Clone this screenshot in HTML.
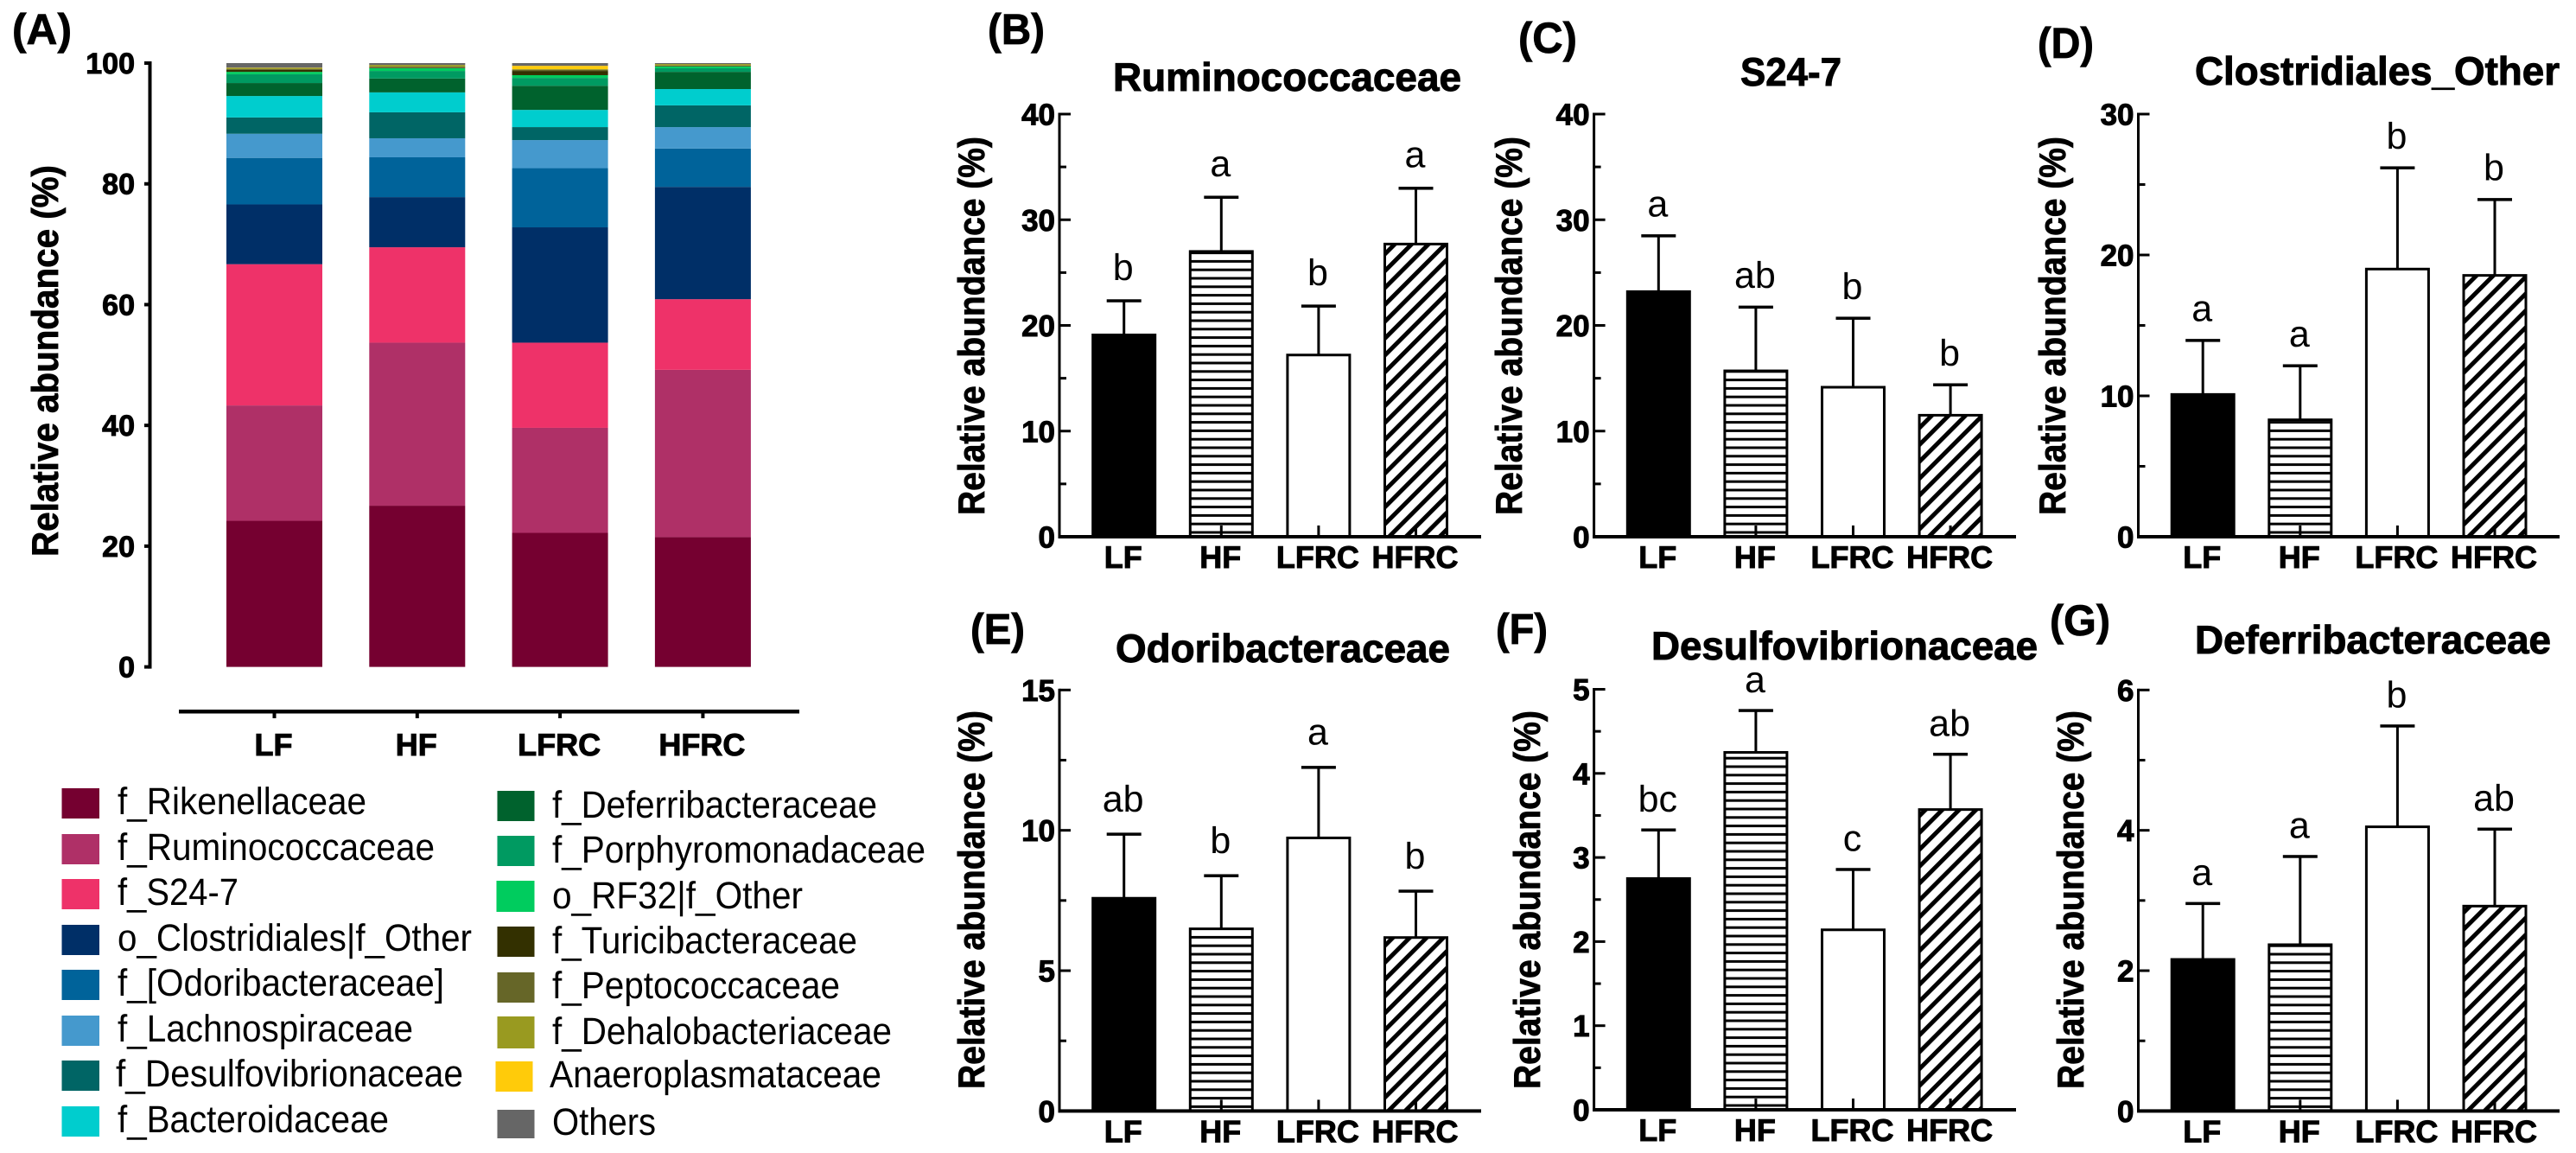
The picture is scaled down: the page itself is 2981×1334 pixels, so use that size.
<!DOCTYPE html>
<html lang="en">
<head>
<meta charset="utf-8">
<title>Relative abundance of gut microbiota families</title>
<style>
html,body{margin:0;padding:0;background:#fff;}
svg{display:block;font-family:"Liberation Sans",sans-serif;text-rendering:geometricPrecision;}
.b{font-weight:700;fill:#000;stroke:#000;stroke-width:1;}
.lg{font-size:44px;fill:#000;}
.pl{font-size:50px;font-weight:700;fill:#000;stroke:#000;stroke-width:.8;}
.tt{font-size:46px;font-weight:700;fill:#000;stroke:#000;stroke-width:1;}
.yt{font-size:43px;font-weight:700;fill:#000;stroke:#000;stroke-width:.8;}
</style>
</head>
<body>
<svg id="fig" xmlns="http://www.w3.org/2000/svg" width="2981" height="1334" viewBox="0 0 2981 1334">
<defs>
<pattern id="diag" patternUnits="userSpaceOnUse" width="13.8" height="13.8" patternTransform="rotate(-45)">
<rect width="13.8" height="13.8" fill="#fff"/>
<rect width="13.8" height="5" fill="#000"/>
</pattern>
</defs>
<rect width="2981" height="1334" fill="#fff"/>

<text class="pl" x="14" y="51" textLength="69" lengthAdjust="spacingAndGlyphs">(A)</text>
<text class="pl" x="1143" y="51" textLength="66" lengthAdjust="spacingAndGlyphs">(B)</text>
<text class="pl" x="1757" y="61" textLength="68" lengthAdjust="spacingAndGlyphs">(C)</text>
<text class="pl" x="2358" y="67" textLength="65" lengthAdjust="spacingAndGlyphs">(D)</text>
<text class="pl" x="1123" y="745" textLength="63" lengthAdjust="spacingAndGlyphs">(E)</text>
<text class="pl" x="1731" y="745" textLength="60" lengthAdjust="spacingAndGlyphs">(F)</text>
<text class="pl" x="2372" y="735" textLength="70" lengthAdjust="spacingAndGlyphs">(G)</text>

<text class="tt" x="1288" y="105" textLength="403" lengthAdjust="spacingAndGlyphs">Ruminococcaceae</text>
<text class="tt" x="2014" y="99" textLength="117" lengthAdjust="spacingAndGlyphs">S24-7</text>
<text class="tt" x="2540" y="98" textLength="422" lengthAdjust="spacingAndGlyphs">Clostridiales_Other</text>
<text class="tt" x="1291" y="766" textLength="387" lengthAdjust="spacingAndGlyphs">Odoribacteraceae</text>
<text class="tt" x="1911" y="763" textLength="447" lengthAdjust="spacingAndGlyphs">Desulfovibrionaceae</text>
<text class="tt" x="2540" y="756" textLength="412" lengthAdjust="spacingAndGlyphs">Deferribacteraceae</text>

<text class="yt" transform="translate(67,644) rotate(-90)" textLength="453" lengthAdjust="spacingAndGlyphs">Relative abundance (%)</text>
<text class="yt" transform="translate(1139,596) rotate(-90)" textLength="438" lengthAdjust="spacingAndGlyphs">Relative abundance (%)</text>
<text class="yt" transform="translate(1761,596) rotate(-90)" textLength="438" lengthAdjust="spacingAndGlyphs">Relative abundance (%)</text>
<text class="yt" transform="translate(2390,596) rotate(-90)" textLength="438" lengthAdjust="spacingAndGlyphs">Relative abundance (%)</text>
<text class="yt" transform="translate(1139,1260) rotate(-90)" textLength="438" lengthAdjust="spacingAndGlyphs">Relative abundance (%)</text>
<text class="yt" transform="translate(1782,1260) rotate(-90)" textLength="438" lengthAdjust="spacingAndGlyphs">Relative abundance (%)</text>
<text class="yt" transform="translate(2411,1260) rotate(-90)" textLength="438" lengthAdjust="spacingAndGlyphs">Relative abundance (%)</text>

<g>
<rect x="71.5" y="912" width="43.5" height="35" fill="#750030"/>
<text class="lg" x="136" y="942" textLength="288" lengthAdjust="spacingAndGlyphs">f_Rikenellaceae</text>
<rect x="71.5" y="965" width="43.5" height="35" fill="#AF3067"/>
<text class="lg" x="136" y="995" textLength="367" lengthAdjust="spacingAndGlyphs">f_Ruminococcaceae</text>
<rect x="71.5" y="1017" width="43.5" height="35" fill="#EE3269"/>
<text class="lg" x="136" y="1047" textLength="140" lengthAdjust="spacingAndGlyphs">f_S24-7</text>
<rect x="71.5" y="1070" width="43.5" height="35" fill="#002F67"/>
<text class="lg" x="136" y="1100" textLength="410" lengthAdjust="spacingAndGlyphs">o_Clostridiales|f_Other</text>
<rect x="71.5" y="1122" width="43.5" height="35" fill="#00639A"/>
<text class="lg" x="136" y="1152" textLength="378" lengthAdjust="spacingAndGlyphs">f_[Odoribacteraceae]</text>
<rect x="71.5" y="1175" width="43.5" height="35" fill="#4599CD"/>
<text class="lg" x="136" y="1205" textLength="342" lengthAdjust="spacingAndGlyphs">f_Lachnospiraceae</text>
<rect x="71.5" y="1227" width="43.5" height="35" fill="#006565"/>
<text class="lg" x="134" y="1257" textLength="402" lengthAdjust="spacingAndGlyphs">f_Desulfovibrionaceae</text>
<rect x="71.5" y="1280" width="43.5" height="35" fill="#00CDCE"/>
<text class="lg" x="136" y="1310" textLength="314" lengthAdjust="spacingAndGlyphs">f_Bacteroidaceae</text>

<rect x="575.5" y="915" width="43" height="35" fill="#00622D"/>
<text class="lg" x="639" y="946" textLength="376" lengthAdjust="spacingAndGlyphs">f_Deferribacteraceae</text>
<rect x="575.5" y="967" width="43" height="35" fill="#009A61"/>
<text class="lg" x="639" y="998" textLength="432" lengthAdjust="spacingAndGlyphs">f_Porphyromonadaceae</text>
<rect x="574.5" y="1019" width="44" height="36" fill="#00CC5E"/>
<text class="lg" x="639" y="1051" textLength="290" lengthAdjust="spacingAndGlyphs">o_RF32|f_Other</text>
<rect x="575.5" y="1072" width="43" height="35" fill="#333000"/>
<text class="lg" x="639" y="1103" textLength="353" lengthAdjust="spacingAndGlyphs">f_Turicibacteraceae</text>
<rect x="575.5" y="1125" width="43" height="35" fill="#666628"/>
<text class="lg" x="639" y="1155" textLength="333" lengthAdjust="spacingAndGlyphs">f_Peptococcaceae</text>
<rect x="575.5" y="1176" width="43" height="37" fill="#999A20"/>
<text class="lg" x="639" y="1208" textLength="393" lengthAdjust="spacingAndGlyphs">f_Dehalobacteriaceae</text>
<rect x="573.5" y="1228" width="43" height="35" fill="#FFCB0A"/>
<text class="lg" x="636" y="1258" textLength="384" lengthAdjust="spacingAndGlyphs">Anaeroplasmataceae</text>
<rect x="575.5" y="1284" width="43" height="33" fill="#666666"/>
<text class="lg" x="639" y="1313" textLength="120" lengthAdjust="spacingAndGlyphs">Others</text>
</g>
<g id="plots"></g>
</svg>
<script>
// Groups shared by every chart
const categories = ['LF', 'HF', 'LFRC', 'HFRC'];

// Panel A: stacked composition (%), one array per taxon, order LF, HF, LFRC, HFRC
const rikenellaceae = [24.2, 26.7, 22.2, 21.5];
const ruminococcaceae = [19.1, 27.0, 17.4, 27.7];
const s247 = [23.4, 15.8, 14.1, 11.7];
const clostridialesOther = [9.9, 8.3, 19.1, 18.6];
const odoribacteraceae = [7.7, 6.6, 9.8, 6.35];
const lachnospiraceae = [4.0, 3.15, 4.65, 3.55];
const desulfovibrionaceae = [2.7, 4.3, 2.15, 3.6];
const bacteroidaceae = [3.55, 3.3, 2.85, 2.7];
const deferribacteraceae = [2.15, 2.3, 4.0, 2.85];
const porphyromonadaceae = [1.45, 1.25, 1.3, 0.6];
const rf32Other = [0.4, 0.45, 0.45, 0.3];
const turicibacteraceae = [0.35, 0.1, 0.7, 0.05];
const peptococcaceae = [0.1, 0.15, 0.2, 0.1];
const dehalobacteriaceae = [0.2, 0.3, 0.1, 0.25];
const anaeroplasmataceae = [0.05, 0, 0.55, 0];
const others = [0.75, 0.3, 0.45, 0.15];
const stackTicks = [0, 20, 40, 60, 80, 100];

// Panel B: Ruminococcaceae
const ruminoMeans = [19.1, 27.0, 17.2, 27.7];
const ruminoErrors = [3.25, 5.15, 4.65, 5.3];
const ruminoLetters = ['b', 'a', 'b', 'a'];
const ruminoTicks = [0, 10, 20, 30, 40];

// Panel C: S24-7
const s24Means = [23.2, 15.7, 14.15, 11.5];
const s24Errors = [5.3, 6.05, 6.55, 2.9];
const s24Letters = ['a', 'ab', 'b', 'b'];
const s24Ticks = [0, 10, 20, 30, 40];

// Panel D: Clostridiales_Other
const clostMeans = [10.1, 8.3, 19.0, 18.55];
const clostErrors = [3.85, 3.85, 7.2, 5.4];
const clostLetters = ['a', 'a', 'b', 'b'];
const clostTicks = [0, 10, 20, 30];

// Panel E: Odoribacteraceae
const odoriMeans = [7.58, 6.49, 9.73, 6.18];
const odoriErrors = [2.29, 1.9, 2.52, 1.66];
const odoriLetters = ['ab', 'b', 'a', 'b'];
const odoriTicks = [0, 5, 10, 15];

// Panel F: Desulfovibrionaceae
const desulfoMeans = [2.75, 4.25, 2.14, 3.57];
const desulfoErrors = [0.58, 0.5, 0.72, 0.66];
const desulfoLetters = ['bc', 'a', 'c', 'ab'];
const desulfoTicks = [0, 1, 2, 3, 4, 5];

// Panel G: Deferribacteraceae
const deferriMeans = [2.16, 2.37, 4.05, 2.92];
const deferriErrors = [0.8, 1.26, 1.44, 1.1];
const deferriLetters = ['a', 'a', 'b', 'ab'];
const deferriTicks = [0, 2, 4, 6];

const SVGNS = 'http://www.w3.org/2000/svg';
const plots = document.getElementById('plots');

function mk(tag, attrs, parent, text) {
  const node = document.createElementNS(SVGNS, tag);
  for (const k in attrs) node.setAttribute(k, attrs[k]);
  if (text !== undefined) node.textContent = text;
  parent.appendChild(node);
  return node;
}

function drawStack() {
  const g = mk('g', {}, plots);
  
  
  const taxa = [
    ['rikenellaceae', rikenellaceae, '#750030'], ['ruminococcaceae', ruminococcaceae, '#AF3067'],
    ['s24-7', s247, '#EE3269'], ['clostridiales-other', clostridialesOther, '#002F67'],
    ['odoribacteraceae', odoribacteraceae, '#00639A'], ['lachnospiraceae', lachnospiraceae, '#4599CD'],
    ['desulfovibrionaceae', desulfovibrionaceae, '#006565'], ['bacteroidaceae', bacteroidaceae, '#00CDCE'],
    ['deferribacteraceae', deferribacteraceae, '#00622D'], ['porphyromonadaceae', porphyromonadaceae, '#009A61'],
    ['rf32-other', rf32Other, '#00CC5E'], ['turicibacteraceae', turicibacteraceae, '#333000'],
    ['peptococcaceae', peptococcaceae, '#666628'], ['dehalobacteriaceae', dehalobacteriaceae, '#999A20'],
    ['anaeroplasmataceae', anaeroplasmataceae, '#FFCB0A'], ['others', others, '#666666']
  ];
  const yTop = 73, yBottom = 771.6;
  const y = v => yBottom - (v / 100) * (yBottom - yTop);
  const x = i => 317.5 + i * 165.3;
  const barW = 111;
  categories.forEach((cat, i) => {
    let sum = 0;
    taxa.forEach(t => {
      const v = t[1][i];
      const seg = mk('rect', { x: x(i) - barW / 2, y: y(sum + v), width: barW, height: Math.max(0, y(sum) - y(sum + v)), fill: t[2] }, g);
      
      
      sum += v;
    });
    const tick = mk('rect', { x: x(i) - 2, y: 823, width: 4, height: 8, fill: '#000' }, g);
    
    
    const label = mk('text', { x: x(i) - 1, y: 874, 'text-anchor': 'middle', 'font-size': 36, class: 'b' }, g, cat);
    
    
  });
  const yAxis = mk('rect', { x: 171.5, y: yTop - 2, width: 4, height: yBottom - yTop + 4, fill: '#000' }, g);
  
  
  const xAxis = mk('rect', { x: 207, y: 821, width: 718, height: 4.5, fill: '#000' }, g);
  
  
  stackTicks.forEach(t => {
    const tick = mk('rect', { x: 167, y: y(t) - 2, width: 6, height: 4, fill: '#000' }, g);
    
    
    const label = mk('text', { x: 156, y: y(t) + 12, 'text-anchor': 'end', 'font-size': 34, class: 'b' }, g, t);
    
    
  });
}

function drawPanel(p) {
  const g = mk('g', {}, plots);
  
  
  const yMax = p.ticks[p.ticks.length - 1];
  const y = v => p.yBottom - (v / yMax) * (p.yBottom - p.yTop);
  const x = i => p.axisX + 74.7 + i * 112.6;
  const barW = 72;
  const strokeW = 3;
  categories.forEach((cat, i) => {
    const top = y(p.means[i]);
    const errTop = y(p.means[i] + p.errors[i]);
    const stem = mk('rect', { x: x(i) - 1.5, y: errTop, width: 3, height: top - errTop, fill: '#000' }, g);
    
    
    const cap = mk('rect', { x: x(i) - 20, y: errTop - 1.5, width: 40, height: 3.5, fill: '#000' }, g);
    
    
    const fill = i === 0 ? '#000' : i === 3 ? 'url(#diag)' : '#fff';
    const bar = mk('rect', { x: x(i) - barW / 2, y: top, width: barW, height: p.yBottom - top, fill: fill, stroke: '#000', 'stroke-width': strokeW }, g);
    
    
    if (i === 1) {
      for (let sy = p.yBottom - 5; sy > top; sy -= 9.8) {
        const stripe = mk('rect', { x: x(i) - barW / 2, y: sy - 1.5, width: barW, height: 3, fill: '#000' }, g);
        
        
      }
    }
    const tick = mk('rect', { x: x(i) - 1.5, y: p.yBottom - 13, width: 3, height: 13, fill: '#000' }, g);
    
    
    const letter = mk('text', { x: x(i) - 1, y: errTop - p.letterGap, 'text-anchor': 'middle', 'font-size': 43, fill: '#000' }, g, p.letters[i]);
    
    
    const label = mk('text', { x: x(i) - 1, y: p.yBottom + 36, 'text-anchor': 'middle', 'font-size': 36, class: 'b' }, g, cat);
    
    
  });
  const yAxis = mk('rect', { x: p.axisX - 1.5, y: p.yTop - 1.5, width: 3, height: p.yBottom - p.yTop + 3, fill: '#000' }, g);
  
  
  const xAxis = mk('rect', { x: p.axisX - 1.5, y: p.yBottom - 2, width: p.axisEnd - p.axisX + 1.5, height: 4, fill: '#000' }, g);
  
  
  p.ticks.forEach((t, k) => {
    const tick = mk('rect', { x: p.axisX, y: y(t) - 1.5, width: 13, height: 3, fill: '#000' }, g);
    
    
    const label = mk('text', { x: p.axisX - 5, y: y(t) + 12.5, 'text-anchor': 'end', 'font-size': 35, class: 'b' }, g, t);
    
    
    if (k > 0) {
      const minor = mk('rect', { x: p.axisX, y: y((t + p.ticks[k - 1]) / 2) - 1.5, width: 8, height: 3, fill: '#000' }, g);
      
      
    }
  });
}

drawStack();
drawPanel({ id: 'ruminococcaceae', means: ruminoMeans, errors: ruminoErrors, letters: ruminoLetters, ticks: ruminoTicks, axisX: 1226, axisEnd: 1714, yTop: 132, yBottom: 621, letterGap: 24 });
drawPanel({ id: 's24-7', means: s24Means, errors: s24Errors, letters: s24Letters, ticks: s24Ticks, axisX: 1844.6, axisEnd: 2333, yTop: 132, yBottom: 621, letterGap: 22 });
drawPanel({ id: 'clostridiales-other', means: clostMeans, errors: clostErrors, letters: clostLetters, ticks: clostTicks, axisX: 2474.5, axisEnd: 2962, yTop: 132, yBottom: 621, letterGap: 22 });
drawPanel({ id: 'odoribacteraceae', means: odoriMeans, errors: odoriErrors, letters: odoriLetters, ticks: odoriTicks, axisX: 1226, axisEnd: 1714, yTop: 798.3, yBottom: 1285.4, letterGap: 26 });
drawPanel({ id: 'desulfovibrionaceae', means: desulfoMeans, errors: desulfoErrors, letters: desulfoLetters, ticks: desulfoTicks, axisX: 1844.6, axisEnd: 2333, yTop: 797.5, yBottom: 1284, letterGap: 21 });
drawPanel({ id: 'deferribacteraceae', means: deferriMeans, errors: deferriErrors, letters: deferriLetters, ticks: deferriTicks, axisX: 2474.5, axisEnd: 2962, yTop: 798.3, yBottom: 1285.4, letterGap: 21 });
</script>
</body>
</html>
